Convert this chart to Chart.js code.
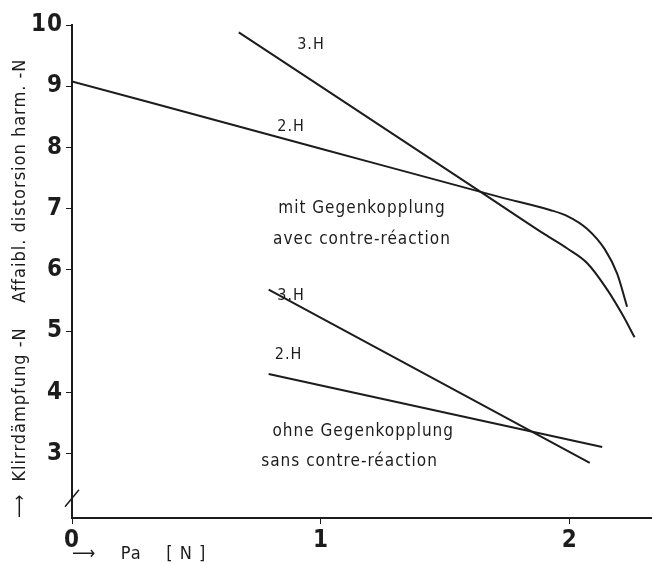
<!DOCTYPE html>
<html>
<head>
<meta charset="utf-8">
<script src="https://cdn.jsdelivr.net/npm/chart.js@4.4.0/dist/chart.umd.min.js"></script>
<style>
  html, body { margin: 0; padding: 0; background: #fff; }
</style>
</head>
<body>
<canvas id="myChart" width="652" height="565"></canvas>
<script>
// Klirrdaempfung ueber Pa, mit / ohne Gegenkopplung

const xTicks = [0, 1, 2];
const yTicks = [3, 4, 5, 6, 7, 8, 9, 10];

// mit Gegenkopplung
const mit2H_x = [0, 1.0, 1.72, 1.92, 1.99, 2.07, 2.14, 2.19, 2.23];
const mit2H_y = [9.08, 7.98, 7.19, 6.98, 6.88, 6.67, 6.34, 5.94, 5.40];
const mit3H_x = [0.67, 1.64, 1.90, 1.99, 2.07, 2.15, 2.21, 2.26];
const mit3H_y = [9.88, 7.28, 6.58, 6.35, 6.11, 5.68, 5.28, 4.90];

// ohne Gegenkopplung
const ohne2H_x = [0.79, 2.13];
const ohne2H_y = [4.30, 3.11];
const ohne3H_x = [0.79, 2.08];
const ohne3H_y = [5.68, 2.85];

// Beschriftungen im Diagramm
const noteText = ['3.H', '2.H', 'mit Gegenkopplung', 'avec contre-réaction',
                  '3.H', '2.H', 'ohne Gegenkopplung', 'sans contre-réaction'];
const noteX = [0.96, 0.88, 1.165, 1.165, 0.88, 0.87, 1.17, 1.115];
const noteY = [9.68, 8.34, 7.0, 6.5, 5.57, 4.62, 3.36, 2.87];

const FONT = '"DejaVu Sans Condensed", "Liberation Sans Narrow", "DejaVu Sans", sans-serif';
const INK = '#1c1c1c';

function pts(xs, ys) {
	return xs.map((x, i) => ({x: x, y: ys[i]}));
}

function line(xs, ys) {
	return {
		data: pts(xs, ys),
		borderColor: INK,
		borderWidth: 2,
		pointRadius: 0,
		fill: false,
		cubicInterpolationMode: 'monotone'
	};
}

// wider lettering, like the stencil text of the original
const spacing = {
	id: 'spacing',
	beforeDraw(chart) { chart.ctx.letterSpacing = '1px'; },
	afterDraw(chart) { chart.ctx.letterSpacing = '0px'; }
};

const notes = {
	id: 'notes',
	afterDatasetsDraw(chart) {
		const ctx = chart.ctx, xs = chart.scales.x, ys = chart.scales.y;
		ctx.save();
		ctx.fillStyle = INK;
		ctx.textAlign = 'center';
		ctx.textBaseline = 'middle';
		noteText.forEach((t, i) => {
			ctx.font = (t.length < 4 ? '16px ' : '17px ') + FONT;
			ctx.fillText(t, xs.getPixelForValue(noteX[i]), ys.getPixelForValue(noteY[i]));
		});
		// axis break on the y axis
		const bx = xs.getPixelForValue(0);
		const by = ys.getPixelForValue(2.28);
		ctx.strokeStyle = INK;
		ctx.lineWidth = 1.5;
		ctx.beginPath();
		ctx.moveTo(bx - 7, by + 9);
		ctx.lineTo(bx + 7, by - 8);
		ctx.stroke();
		ctx.restore();
	}
};

const ctx = document.getElementById('myChart').getContext('2d');
const myChart = new Chart(ctx, {
	type: 'line',
	data: {
		datasets: [
			line(mit2H_x, mit2H_y),
			line(mit3H_x, mit3H_y),
			line(ohne2H_x, ohne2H_y),
			line(ohne3H_x, ohne3H_y)
		]
	},
	options: {
		responsive: false,
		animation: false,
		layout: { padding: { top: 25, right: 0, bottom: 0, left: 0 } },
		plugins: {
			legend: { display: false },
			tooltip: { enabled: false }
		},
		scales: {
			x: {
				type: 'linear',
				min: 0,
				max: 2.33,
				afterBuildTicks: (s) => { s.ticks = xTicks.map(v => ({value: v})); },
				afterFit: (s) => { s.height = 47; },
				border: { display: true, color: INK, width: 2 },
				grid: { display: true, drawOnChartArea: false, drawTicks: true, tickLength: 6, color: INK, lineWidth: 1 },
				ticks: {
					color: INK,
					padding: 2,
					autoSkip: false,
					maxRotation: 0,
					font: { family: FONT, size: 24, weight: 'bold' }
				},
				title: {
					display: true,
					text: '⟶    Pa    [ N ]',
					align: 'start',
					color: INK,
					padding: { top: 0, bottom: 0 },
					font: { family: FONT, size: 18 }
				}
			},
			y: {
				type: 'linear',
				min: 1.95,
				max: 10,
				afterBuildTicks: (s) => { s.ticks = yTicks.map(v => ({value: v})); },
				afterFit: (s) => { s.width = 72; },
				border: { display: true, color: INK, width: 2 },
				grid: { display: true, drawOnChartArea: false, drawTicks: true, tickLength: 6, color: INK, lineWidth: 1 },
				ticks: {
					color: INK,
					padding: 3,
					autoSkip: false,
					font: { family: FONT, size: 24, weight: 'bold' }
				},
				title: {
					display: true,
					text: '⟶  Klirrdämpfung -N    Affaibl. distorsion harm. -N',
					align: 'start',
					color: INK,
					padding: { top: 10, bottom: 0 },
					font: { family: FONT, size: 18 }
				}
			}
		}
	},
	plugins: [spacing, notes]
});
</script>
</body>
</html>
